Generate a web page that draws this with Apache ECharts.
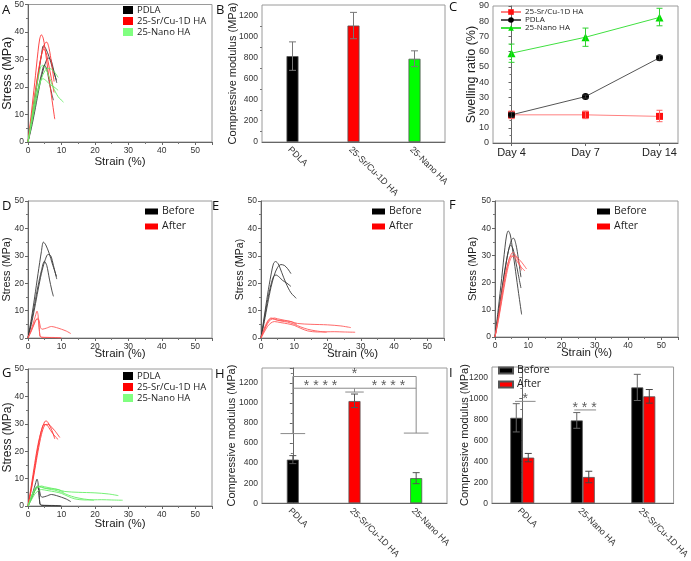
<!DOCTYPE html>
<html><head><meta charset="utf-8">
<script src="https://cdn.jsdelivr.net/npm/echarts@6/dist/echarts.min.js"></script>
<style>html,body{margin:0;padding:0;background:#fff}#c{width:691px;height:561px}</style>
</head><body><div id="c"></div>
<script>
// ---------- DATA ----------
// Stress-strain curves [strain %, stress MPa]
const pdlaBefore1 = [[0,0],[1,7],[2,15],[3,23.5],[4,31.5],[4.6,35],[5.3,34],[6.3,31],[7.3,27],[8.5,22.5]];
const pdlaBefore2 = [[0,0],[1,5],[2,11],[3,17.5],[4,23.5],[5,28],[6,30.5],[6.8,30],[7.6,26.5],[8.6,21.5]];
const pdlaBefore3 = [[0,0],[1,6],[2,12.5],[3,19],[4,24.5],[4.9,28],[5.6,26.5],[6.4,21.5],[7.1,17.5],[7.6,15.2]];
const pdlaAfter1 = [[0,0],[0.8,2.5],[1.6,5.5],[2.2,8],[2.7,9.8],[3.0,8.5],[3.3,4],[3.6,0.8],[4,0.3],[6,0.2],[8,0.1],[10,0]];
const pdlaAfter2 = [[0,0],[1,2.5],[2,5.5],[2.8,7.2],[3.3,6.5],[3.7,4],[4.2,3.2],[5.5,3.6],[7,4.2],[8.5,3.8],[10,3.2],[11.5,2.5],[12.8,1.6]];
const pdlaAfter3 = [[0,0],[1,2.8],[2,5.8],[2.6,6.8],[3.1,6.5],[3.4,3],[3.6,0.6],[4.5,0.2],[7,0.2],[9.8,0.1]];

const nanoBefore1 = [[0,0],[1,8],[2,16],[3,23],[3.8,27.3],[4.4,27.9],[5.2,27],[6.2,24],[7.5,20],[9,16.5],[10.6,14.5]];
const nanoBefore2 = [[0,0],[1,6],[2,12.5],[3,18.5],[4,23],[5,25.8],[6,26.8],[7,26.5],[8,25.3],[9,23.5]];
const nanoBefore3 = [[0,0],[1,7],[2,14],[3,19.5],[3.8,22.5],[4.5,23],[5.5,22.2],[6.5,21],[7.8,20],[9,18.8]];
const nanoAfter1 = [[0,0],[1,2.8],[2,5.3],[3,6.8],[4,7.3],[5,7],[7,6.5],[9,6],[11,5.3],[15,5],[20,4.8],[24,4.4],[27,3.8]];
const nanoAfter2 = [[0,0],[1,3.2],[2,5.8],[3,7],[4,6.8],[6,6.2],[8,5.8],[10,5],[12,4],[14,3.2],[16.5,2.6],[19.7,2.1]];
const nanoAfter3 = [[0,0],[1,2.2],[2,4.3],[3,5.5],[4,6],[6,5.6],[8,5.2],[10,4.6],[12,3.5],[14,2.6],[17,2.2],[22,2.3],[25,2.2],[28.3,2.1]];
const nanoAfter4 = [[0,0],[1,3.6],[2,6.2],[3,7.3],[4,7],[5,6.5],[7,6.3],[9,6],[10,5.4],[10.8,5]];

const srBefore1 = [[0,0],[1,10.5],[2,21.5],[3,33],[3.5,37.5],[4,39],[4.6,37.5],[5.3,32],[6.2,24],[7.1,16],[8,8.3]];
const srBefore2 = [[0,0],[1,8],[2,16.5],[3,24.5],[4,31.5],[5,35.8],[5.6,36.3],[6.3,34],[7,29],[7.8,22]];
const srBefore3 = [[0,0],[1,8.5],[2,17],[3,25],[4,31.5],[4.7,33.8],[5.4,32.5],[6.2,28],[7,23],[7.8,18]];
const srAfter1 = [[0,0],[1,6.5],[2,14],[3,21.5],[4,27.5],[5,30.8],[5.5,31],[6.5,29.5],[8,27.5],[9.5,25]];
const srAfter2 = [[0,0],[1,6],[2,13],[3,20],[4,26],[5,29.5],[6,29.8],[7,28],[8,24.5]];
const srAfter3 = [[0,0],[1,7.5],[2,15.5],[3,22.5],[4,27.5],[4.8,29.8],[5.7,29.5],[6.8,27.5],[8,25.5],[9,24.3]];

// Panel B: compressive modulus (before)
const catsB = ['PDLA', '25-Sr/Cu-1D HA', '25-Nano HA'];
const modBefore = [815, 1105, 790];
const modBeforeErrLo = [680, 980, 715];
const modBeforeErrHi = [950, 1230, 865];

// Panel C: swelling ratio
const days = ['Day 4', 'Day 7', 'Day 14'];
const swellSr = [18.5, 18.5, 17.5];
const swellSrLo = [16, 16, 14];
const swellSrHi = [21, 21, 21.5];
const swellPdla = [18.5, 30.5, 56];
const swellPdlaLo = [17, 29.5, 54.5];
const swellPdlaHi = [20, 31.5, 57.5];
const swellNano = [59, 69.5, 82.5];
const swellNanoLo = [53, 63.5, 77];
const swellNanoHi = [65, 75.5, 88.5];

// Panel H: compressive modulus (after)
const catsH = ['PDLA', '25-Sr/Cu-1D HA', '25-Nano HA'];
const modAfterH = [435, 1020, 250];
const modAfterHLo = [395, 955, 195];
const modAfterHHi = [475, 1090, 305];
const hSigSegments = [
  [[-0.2, 695], [0.2, 695]],
  [[0, 695], [0, 1265], [2, 1265], [2, 700]],
  [[1.8, 700], [2.2, 700]],
  [[0, 1148], [2, 1148]],
  [[1, 1110], [1, 1148]],
  [[0.85, 1110], [1.15, 1110]]
];
const hSigText = [[1, 1290, '*'], [0.45, 1170, '* * * *'], [1.55, 1170, '* * * *']];

// Panel I: before vs after
const catsI = ['PDLA', '25-Nano HA', '25-Sr/Cu-1D HA'];
const iBefore = [815, 790, 1105];
const iBeforeLo = [680, 715, 980];
const iBeforeHi = [950, 865, 1230];
const iAfter = [435, 250, 1020];
const iAfterLo = [395, 195, 955];
const iAfterHi = [475, 305, 1085];
const iSigSegments = [[[-0.12, 972], [0.22, 972]], [[0.86, 890], [1.22, 890]]];
const iSigText = [[0.05, 995, '*'], [1.03, 912, '* * *']];

// ---------- CHART ----------
const TF = '"Liberation Sans", Arial, sans-serif';
const LF = '"Open Sans", sans-serif';
const chart = echarts.init(document.getElementById('c'));

const grids = [
  [28, 4, 184, 138],   // A
  [262, 5, 183, 137],  // B
  [493, 6, 185, 137],  // C
  [28, 201, 184, 137], // D
  [261, 201, 183, 137],// E
  [495, 201, 183, 136],// F
  [28, 369, 184, 137], // G
  [262, 368, 185, 138],// H
  [492, 367, 186, 137] // I
].map(g => ({left: g[0], top: g[1], width: g[2], height: g[3], show: true, borderColor: '#9a9a9a', borderWidth: 1}));

const axLine = {lineStyle: {color: '#666', width: 1}};
const axTick = {length: 3, lineStyle: {color: '#666'}};
const minor = {show: true, splitNumber: 2, length: 2, lineStyle: {color: '#777'}};
const plain = v => String(v);

function strainX(gi, nameGap) {
  return {type: 'value', gridIndex: gi, min: 0, max: 55, interval: 10,
    name: 'Strain (%)', nameLocation: 'middle', nameGap: nameGap, nameMoveOverlap: false,
    nameTextStyle: {fontFamily: TF, fontSize: 11.5, color: '#222'},
    axisLine: axLine, axisTick: axTick, minorTick: minor, splitLine: {show: false},
    axisLabel: {fontFamily: TF, fontSize: 8.5, color: '#333', margin: 4, showMaxLabel: false, formatter: plain}};
}
function stressY(gi, nameGap, fs) {
  return {type: 'value', gridIndex: gi, min: 0, max: 50, interval: 10,
    name: 'Stress (MPa)', nameLocation: 'middle', nameGap: nameGap, nameMoveOverlap: false,
    nameTextStyle: {fontFamily: TF, fontSize: fs, color: '#222'},
    axisLine: axLine, axisTick: axTick, minorTick: minor, splitLine: {show: false},
    axisLabel: {fontFamily: TF, fontSize: 8.5, color: '#333', margin: 4, formatter: plain}};
}
function modY(gi, max, nameGap) {
  return {type: 'value', gridIndex: gi, min: 0, max: max, interval: 200,
    name: 'Compressive modulus (MPa)', nameLocation: 'middle', nameGap: nameGap, nameMoveOverlap: false,
    nameTextStyle: {fontFamily: TF, fontSize: 11, color: '#222'},
    axisLine: axLine, axisTick: axTick, minorTick: minor, splitLine: {show: false},
    axisLabel: {fontFamily: TF, fontSize: 8.5, color: '#333', margin: 4, showMaxLabel: false, formatter: plain}};
}
function catX(gi, cats) {
  return {type: 'category', gridIndex: gi, data: cats,
    axisLine: axLine, axisTick: {alignWithLabel: true, length: 3, lineStyle: {color: '#666'}},
    axisLabel: {fontFamily: TF, fontSize: 9, color: '#333', rotate: -45, margin: 3, interval: 0,
      align: 'left', verticalAlign: 'top'}};
}
function hiddenX(gi) {
  return {type: 'value', gridIndex: gi, min: -0.5, max: 2.5, show: false};
}

const xAxis = [
  strainX(0, 14),
  catX(1, catsB),
  {type: 'value', gridIndex: 2, min: -0.25, max: 2.25,
    axisLine: axLine, axisTick: {length: 3, lineStyle: {color: '#666'}, customValues: [0, 1, 2]},
    splitLine: {show: false},
    axisLabel: {customValues: [0, 1, 2], formatter: v => days[Math.round(v)], fontFamily: TF, fontSize: 11, color: '#222', margin: 4}},
  strainX(3, 10),
  strainX(4, 10),
  strainX(5, 10),
  strainX(6, 11.5),
  catX(7, catsH),
  catX(8, catsI),
  hiddenX(7),
  hiddenX(8)
];
const yAxis = [
  stressY(0, 13.5, 12.5),
  modY(1, 1300, 23.5),
  {type: 'value', gridIndex: 2, min: 0, max: 90, interval: 10,
    name: 'Swelling ratio (%)', nameLocation: 'middle', nameGap: 14.5, nameMoveOverlap: false,
    nameTextStyle: {fontFamily: TF, fontSize: 12.5, color: '#222'},
    axisLine: axLine, axisTick: axTick, minorTick: minor, splitLine: {show: false},
    axisLabel: {fontFamily: TF, fontSize: 9, color: '#333', margin: 4}},
  stressY(3, 15.5, 11),
  stressY(4, 15.5, 10.5),
  stressY(5, 16.5, 11),
  stressY(6, 14, 12),
  modY(7, 1350, 24.5),
  modY(8, 1300, 21.5)
];

const BLK = '#3a3a3a', RED = '#ff3535', GRN = '#66ee66', RED2 = '#ff5a5a';
const series = [];
function curves(gi, name, list, color) {
  list.forEach(d => series.push({type: 'line', name: name, xAxisIndex: gi, yAxisIndex: gi, data: d,
    showSymbol: false, symbol: 'none', smooth: 0.3, lineStyle: {width: 1, color: color, opacity: 0.9},
    itemStyle: {color: color}, silent: true, animation: false}));
}
// A (before)
curves(0, 'A|PDLA', [pdlaBefore1, pdlaBefore2, pdlaBefore3], BLK);
curves(0, 'A|25-Sr/Cu-1D HA', [srBefore1, srBefore2, srBefore3], RED);
curves(0, 'A|25-Nano HA', [nanoBefore1, nanoBefore2, nanoBefore3], GRN);
// D (PDLA)
curves(3, 'D|Before', [pdlaBefore1, pdlaBefore2, pdlaBefore3], BLK);
curves(3, 'D|After', [pdlaAfter1, pdlaAfter2, pdlaAfter3], RED2);
// E (Nano)
curves(4, 'E|Before', [nanoBefore1, nanoBefore2, nanoBefore3], BLK);
curves(4, 'E|After', [nanoAfter1, nanoAfter2, nanoAfter3, nanoAfter4], RED2);
// F (Sr/Cu)
curves(5, 'F|Before', [srBefore1, srBefore2, srBefore3], BLK);
curves(5, 'F|After', [srAfter1, srAfter2, srAfter3], RED2);
// G (after)
curves(6, 'G|PDLA', [pdlaAfter1, pdlaAfter2, pdlaAfter3], BLK);
curves(6, 'G|25-Sr/Cu-1D HA', [srAfter1, srAfter2, srAfter3], RED);
curves(6, 'G|25-Nano HA', [nanoAfter1, nanoAfter2, nanoAfter3, nanoAfter4], GRN);

// error bar renderer
function errBar(offset, color, cap) {
  return function (params, api) {
    const x = api.value(0);
    const lo = api.coord([x, api.value(1)]);
    const hi = api.coord([x, api.value(2)]);
    const cx = lo[0] + offset;
    const st = {stroke: color, lineWidth: 1};
    return {type: 'group', children: [
      {type: 'line', shape: {x1: cx, y1: lo[1], x2: cx, y2: hi[1]}, style: st},
      {type: 'line', shape: {x1: cx - cap, y1: hi[1], x2: cx + cap, y2: hi[1]}, style: st},
      {type: 'line', shape: {x1: cx - cap, y1: lo[1], x2: cx + cap, y2: lo[1]}, style: st}
    ]};
  };
}
function errSeries(xi, yi, lo, hi, offset, color, cap) {
  series.push({type: 'custom', xAxisIndex: xi, yAxisIndex: yi, z: 5, silent: true, animation: false,
    renderItem: errBar(offset, color, cap), encode: {x: 0, y: [1, 2]},
    data: lo.map((v, i) => [i, v, hi[i]])});
}
function errSeriesX(xi, yi, xs, lo, hi, color, cap) {
  series.push({type: 'custom', xAxisIndex: xi, yAxisIndex: yi, z: 5, silent: true, animation: false,
    renderItem: errBar(0, color, cap), encode: {x: 0, y: [1, 2]},
    data: lo.map((v, i) => [xs[i], v, hi[i]])});
}
const barColorsB = ['#000000', '#ff0000', '#00ff00'];
// B
series.push({type: 'bar', xAxisIndex: 1, yAxisIndex: 1, barWidth: 12, animation: false,
  data: modBefore.map((v, i) => ({value: v, itemStyle: {color: barColorsB[i], borderColor: '#555', borderWidth: 0.8}}))});
errSeries(1, 1, modBeforeErrLo, modBeforeErrHi, 0, '#777', 3.5);
// C
const dayIdx = [0, 1, 2];
function swellLine(name, vals, lineColor, symColor, symbol, size) {
  series.push({type: 'line', name: name, xAxisIndex: 2, yAxisIndex: 2, data: vals.map((v, i) => [dayIdx[i], v]),
    symbol: symbol, symbolSize: size, lineStyle: {width: 1, color: lineColor},
    itemStyle: {color: symColor}, animation: false, z: 4});
}
swellLine('C|25-Sr/Cu-1D HA', swellSr, '#ff8080', '#ff1010', 'rect', 7);
swellLine('C|PDLA', swellPdla, '#555', '#000', 'circle', 7);
swellLine('C|25-Nano HA', swellNano, '#40e040', '#00e000', 'triangle', 8);
errSeriesX(2, 2, dayIdx, swellSrLo, swellSrHi, '#ff6060', 3);
errSeriesX(2, 2, dayIdx, swellPdlaLo, swellPdlaHi, '#333', 3);
errSeriesX(2, 2, dayIdx, swellNanoLo, swellNanoHi, '#30d030', 3);
// H
series.push({type: 'bar', xAxisIndex: 7, yAxisIndex: 7, barWidth: 12, animation: false,
  data: modAfterH.map((v, i) => ({value: v, itemStyle: {color: barColorsB[i], borderColor: '#555', borderWidth: 0.8}}))});
errSeries(7, 7, modAfterHLo, modAfterHHi, 0, '#555', 3.5);
series.push({type: 'lines', coordinateSystem: 'cartesian2d', xAxisIndex: 9, yAxisIndex: 7, polyline: true,
  silent: true, animation: false, lineStyle: {color: '#8a8a8a', width: 1, opacity: 1},
  data: hSigSegments.map(s => ({coords: s}))});
series.push({type: 'scatter', xAxisIndex: 9, yAxisIndex: 7, symbolSize: 0.1, silent: true, animation: false,
  itemStyle: {color: 'rgba(0,0,0,0)'},
  data: hSigText.map(d => ({value: [d[0], d[1]], label: {show: true, position: 'inside', formatter: d[2], fontFamily: TF, fontSize: 14, color: '#333'}}))});
// I
series.push({type: 'bar', name: 'I|Before', xAxisIndex: 8, yAxisIndex: 8, barWidth: 12, barGap: '0%', animation: false,
  itemStyle: {color: '#000', borderColor: '#555', borderWidth: 0.8}, data: iBefore});
series.push({type: 'bar', name: 'I|After', xAxisIndex: 8, yAxisIndex: 8, barWidth: 12, barGap: '0%', animation: false,
  itemStyle: {color: '#ff0000', borderColor: '#555', borderWidth: 0.8}, data: iAfter});
errSeries(8, 8, iBeforeLo, iBeforeHi, -6, '#666', 3.5);
errSeries(8, 8, iAfterLo, iAfterHi, 6, '#444', 3.5);
series.push({type: 'lines', coordinateSystem: 'cartesian2d', xAxisIndex: 10, yAxisIndex: 8, polyline: true,
  silent: true, animation: false, lineStyle: {color: '#8a8a8a', width: 1, opacity: 1},
  data: iSigSegments.map(s => ({coords: s}))});
series.push({type: 'scatter', xAxisIndex: 10, yAxisIndex: 8, symbolSize: 0.1, silent: true, animation: false,
  itemStyle: {color: 'rgba(0,0,0,0)'},
  data: iSigText.map(d => ({value: [d[0], d[1]], label: {show: true, position: 'inside', formatter: d[2], fontFamily: TF, fontSize: 14, color: '#333'}}))});

function legend(left, top, items, fs, gap, iw, ih, icon) {
  return {left: left, top: top, orient: 'vertical', padding: 0, itemGap: gap, itemWidth: iw, itemHeight: ih,
    selectedMode: false, formatter: n => n.split('|')[1],
    textStyle: {fontFamily: LF, fontSize: fs, color: '#222', padding: [0, 0, 0, -1]},
    data: items.map(it => icon ? {name: it[0], icon: icon, itemStyle: {color: it[1]}} : {name: it[0]})};
}
const legends = [
  legend(123, 5, [['A|PDLA', '#000'], ['A|25-Sr/Cu-1D HA', '#ff0000'], ['A|25-Nano HA', '#80ff80']], 9.5, 1, 10, 8, 'rect'),
  legend(500, 8, [['C|25-Sr/Cu-1D HA'], ['C|PDLA'], ['C|25-Nano HA']], 8, 0, 20, 7, null),
  legend(145, 206, [['D|Before', '#000'], ['D|After', '#ff0000']], 10.5, 4, 13, 6, 'rect'),
  legend(372, 206, [['E|Before', '#000'], ['E|After', '#ff0000']], 10.5, 4, 13, 6, 'rect'),
  legend(597, 206, [['F|Before', '#000'], ['F|After', '#ff0000']], 10.5, 4, 13, 6, 'rect'),
  legend(123, 371, [['G|PDLA', '#000'], ['G|25-Sr/Cu-1D HA', '#ff0000'], ['G|25-Nano HA', '#80ff80']], 9.5, 1, 10, 8, 'rect'),
  legend(498, 365, [['I|Before', '#000'], ['I|After', '#ff0000']], 10.5, 3, 14, 6, 'rect')
];

const letters = [['A', 2, 12.5], ['B', 216, 12.5], ['C', 449, 10], ['D', 2, 209], ['E', 212, 209], ['F', 449, 208], ['G', 2, 376], ['H', 215, 376.5], ['I', 449, 376]];
const graphic = letters.map(l => ({type: 'text', left: l[1], top: l[2] - 9,
  style: {text: l[0], fontFamily: LF, fontSize: 13, fill: '#111'}}));

chart.setOption({animation: false, grid: grids, xAxis: xAxis, yAxis: yAxis, series: series, legend: legends, graphic: graphic});
</script></body></html>
